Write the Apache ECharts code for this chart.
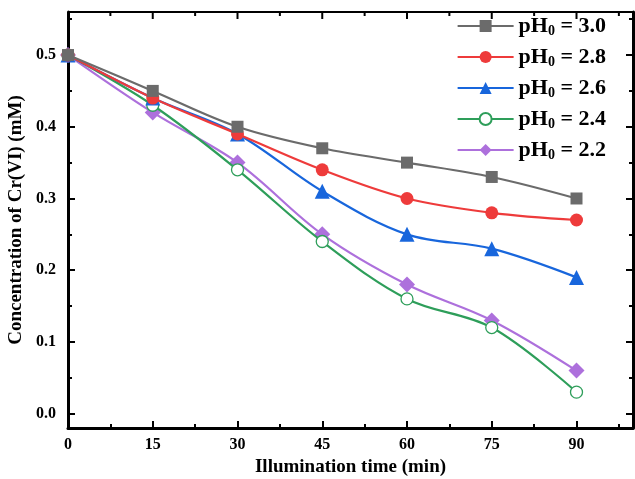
<!DOCTYPE html>
<html><head><meta charset="utf-8">
<script src="https://cdn.jsdelivr.net/npm/echarts@6/dist/echarts.min.js"></script>
<style>html,body{margin:0;padding:0;background:#fff}#c{width:635px;height:479px}</style>
</head><body><div id="c"></div>
<script>
const times = [0, 15, 30, 45, 60, 75, 90];
const pH30 = [0.50, 0.45, 0.40, 0.37, 0.35, 0.33, 0.30];
const pH28 = [0.50, 0.44, 0.39, 0.34, 0.30, 0.28, 0.27];
const pH26 = [0.50, 0.44, 0.39, 0.31, 0.25, 0.23, 0.19];
const pH24 = [0.50, 0.43, 0.34, 0.24, 0.16, 0.12, 0.03];
const pH22 = [0.50, 0.42, 0.35, 0.25, 0.18, 0.13, 0.06];
const seriesNames = ['3.0', '2.8', '2.6', '2.4', '2.2'];
const xTicks = [0, 15, 30, 45, 60, 75, 90];
const xMinor = [7.5, 22.5, 37.5, 52.5, 67.5, 82.5, 97.5];
const yTicks = [0, 0.1, 0.2, 0.3, 0.4, 0.5];
const yMinor = [0.05, 0.15, 0.25, 0.35, 0.45, 0.55];
const xRange = [0, 100];
const yRange = [-0.02, 0.56];

const font = 'Liberation Serif';
const chart = echarts.init(document.getElementById('c'));
const pair = arr => arr.map((v, i) => [times[i], v]);
const styles = [
  {c:'#6b6b6b', sym:'rect', size:12},
  {c:'#ee3b3b', sym:'circle', size:13},
  {c:'#1866dc', sym:'triangle', size:15},
  {c:'#2e9e5a', sym:'circle', size:12, hollow:true},
  {c:'#ad70dc', sym:'diamond', size:16}
];
const datas = [pH30, pH28, pH26, pH24, pH22];
const series = datas.map((d, i) => ({
  name: 'pH' + seriesNames[i],
  type: 'line',
  xAxisIndex: 0, yAxisIndex: 0,
  data: pair(d),
  smooth: 0.35,
  symbol: styles[i].sym,
  symbolSize: styles[i].size,
  showSymbol: true,
  lineStyle: {color: styles[i].c, width: 2.2},
  itemStyle: styles[i].hollow ? {color: '#fff', borderColor: styles[i].c, borderWidth: 1.3} : {color: styles[i].c, borderWidth: 0},
  emphasis: {disabled: true},
  z: 10 - i
}));

const gridRect = {left: 68, top: 12, width: 565, height: 416, outerBoundsMode: 'none', containLabel: false};
const xBase = () => ({type: 'value', min: xRange[0], max: xRange[1], splitLine: {show: false}});
const yBase = () => ({type: 'value', min: yRange[0], max: yRange[1], splitLine: {show: false}});
const tl = () => ({width: 2, color: '#000'});

chart.setOption({
  animation: false,
  grid: [Object.assign({}, gridRect), Object.assign({}, gridRect)],
  legend: {
    orient: 'vertical', right: 24, top: 10,
    itemWidth: 56, itemHeight: 15, itemGap: 8,
    data: series.map(s => s.name),
    formatter: n => '{a|pH}{b|0}{a| = ' + n.slice(2) + '}',
    textStyle: {
      rich: {
        a: {fontFamily: font, fontWeight: 'bold', fontSize: 22, color: '#000'},
        b: {fontFamily: font, fontWeight: 'bold', fontSize: 14, color: '#000', padding: [10, 0, 0, 0]}
      }
    }
  },
  xAxis: [
    Object.assign(xBase(), {
      gridIndex: 0, position: 'bottom',
      name: 'Illumination time (min)', nameLocation: 'middle', nameGap: 30,
      nameTextStyle: {fontFamily: font, fontWeight: 'bold', fontSize: 19, color: '#000'},
      axisLine: {show: true, onZero: false, lineStyle: {color: '#000', width: 3}},
      axisTick: {show: true, inside: true, length: 7, lineStyle: tl(), customValues: xTicks},
      axisLabel: {fontFamily: font, fontWeight: 'bold', fontSize: 16, color: '#000', margin: 9, customValues: xTicks}
    }),
    Object.assign(xBase(), {
      gridIndex: 1, position: 'bottom',
      axisLine: {show: false, onZero: false},
      axisTick: {show: true, inside: true, length: 4, lineStyle: tl(), customValues: xMinor},
      axisLabel: {show: false, customValues: xMinor}
    })
  ],
  yAxis: [
    Object.assign(yBase(), {
      gridIndex: 0, position: 'left',
      name: 'Concentration of Cr(VI) (mM)', nameLocation: 'middle', nameGap: 33,
      nameTextStyle: {fontFamily: font, fontWeight: 'bold', fontSize: 19, color: '#000'},
      axisLine: {show: true, onZero: false, lineStyle: {color: '#000', width: 3}},
      axisTick: {show: true, inside: true, length: 7, lineStyle: tl(), customValues: yTicks},
      axisLabel: {fontFamily: font, fontWeight: 'bold', fontSize: 16, color: '#000', margin: 12,
        customValues: yTicks, formatter: v => v.toFixed(1)}
    }),
    Object.assign(yBase(), {
      gridIndex: 0, position: 'right',
      axisLine: {show: true, onZero: false, lineStyle: {color: '#000', width: 3}},
      axisTick: {show: true, inside: true, length: 7, lineStyle: tl(), customValues: yTicks},
      axisLabel: {show: false, customValues: yTicks}
    }),
    Object.assign(yBase(), {
      gridIndex: 1, position: 'left',
      axisLine: {show: false, onZero: false},
      axisTick: {show: true, inside: true, length: 4, lineStyle: tl(), customValues: yMinor},
      axisLabel: {show: false, customValues: yMinor}
    }),
    Object.assign(yBase(), {
      gridIndex: 1, position: 'right',
      axisLine: {show: false, onZero: false},
      axisTick: {show: true, inside: true, length: 4, lineStyle: tl(), customValues: yMinor},
      axisLabel: {show: false, customValues: yMinor}
    })
  ],
  series: series
});

// Top frame edge and its inward ticks, placed through the chart's own scales
const finder = {xAxisIndex: 0, yAxisIndex: 0};
const leftTop = chart.convertToPixel(finder, [xRange[0], yRange[1]]);
const rightTop = chart.convertToPixel(finder, [xRange[1], yRange[1]]);
const topY = leftTop[1];
const frameEls = [{
  type: 'line', z: 100,
  shape: {x1: leftTop[0], y1: topY, x2: rightTop[0], y2: topY},
  style: {stroke: '#000', lineWidth: 2}
}];
const addTicks = (vals, len) => vals.forEach(v => {
  const px = chart.convertToPixel(finder, [v, yRange[1]])[0];
  frameEls.push({type: 'line', z: 100, shape: {x1: px, y1: topY, x2: px, y2: topY + len}, style: {stroke: '#000', lineWidth: 2}});
});
addTicks(xTicks, 7);
addTicks(xMinor, 4);
chart.setOption({graphic: {elements: frameEls}});
</script></body></html>
